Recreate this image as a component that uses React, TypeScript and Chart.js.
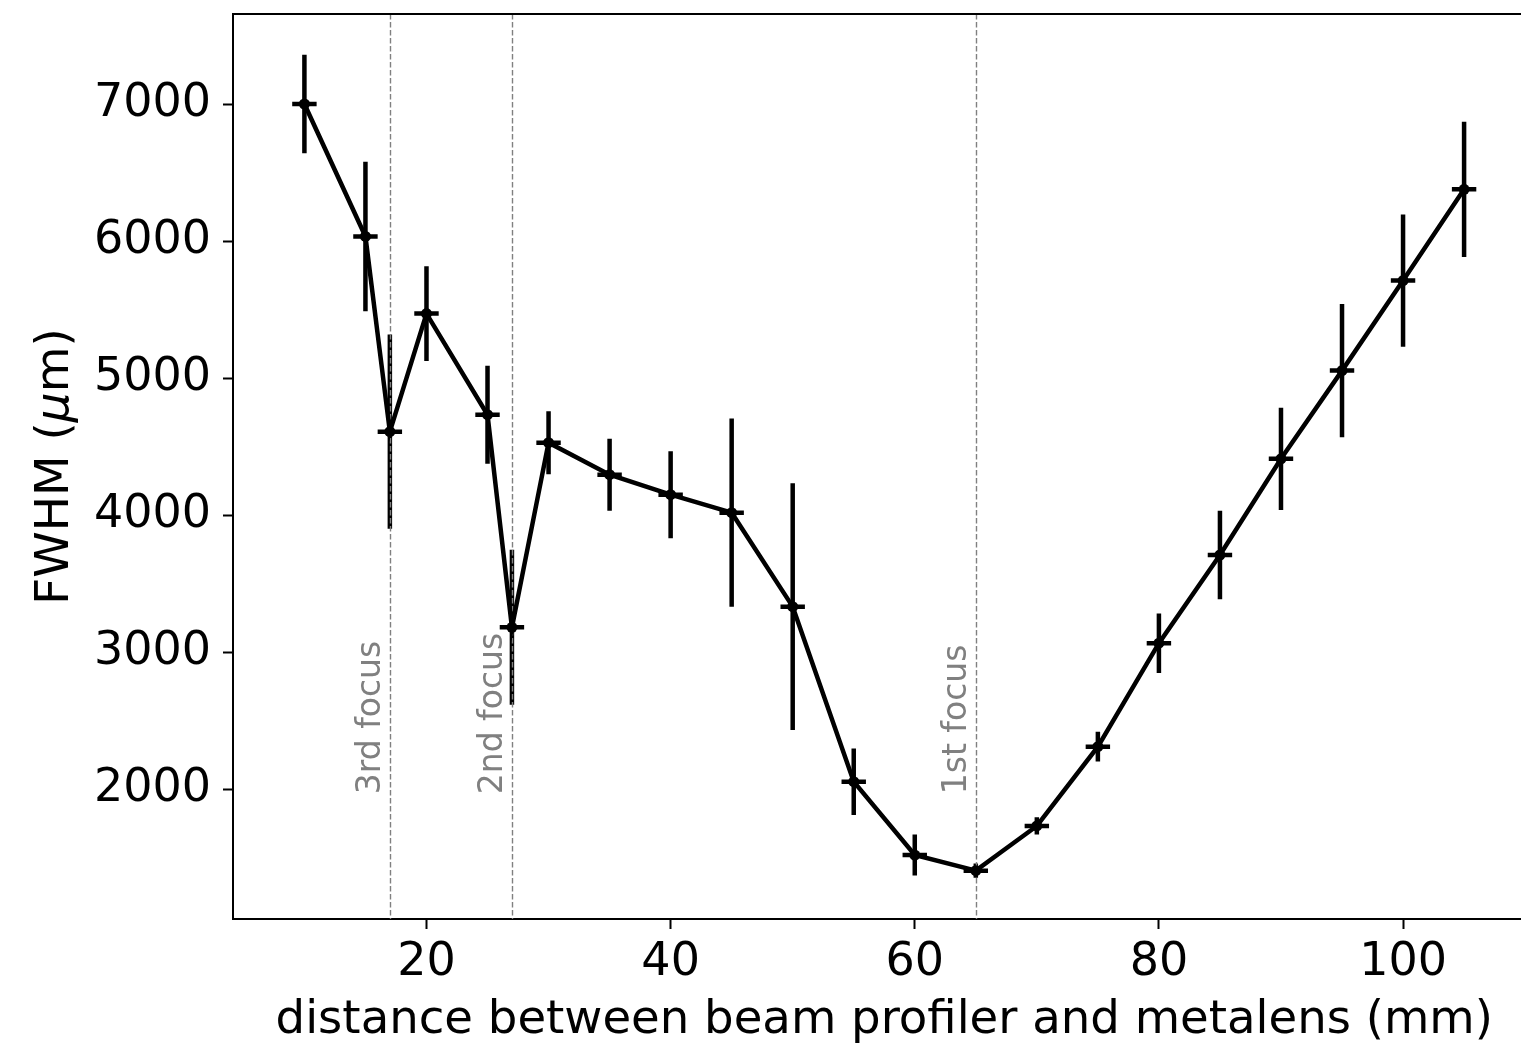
import React, { useEffect, useRef } from 'react';
import { Chart, registerables } from 'chart.js';

Chart.register(...registerables);

// ---- data ----
const distances = [10, 15, 17, 20, 25, 27, 30, 35, 40, 45, 50, 55, 60, 65, 70, 75, 80, 85, 90, 95, 100, 105];
const fwhm = [7002, 6035, 4610, 5472, 4734, 3182, 4530, 4296, 4150, 4019, 3333, 2055, 1520, 1406, 1732, 2311, 3066, 3710, 4412, 5056, 5713, 6379];
const fwhmErr = [359, 545, 709, 345, 358, 566, 230, 263, 318, 687, 900, 243, 150, 52, 63, 109, 217, 323, 373, 486, 482, 493];
const distErr = [1, 1, 1, 1, 1, 1, 1, 1, 1, 1, 1, 1, 1, 1, 1, 1, 1, 1, 1, 1, 1, 1];
const focusPositions = [65, 27, 17];
const focusLabels = ['1st focus', '2nd focus', '3rd focus'];
const focusLabelStart = 2000;
const xTicks = [20, 40, 60, 80, 100];
const yTicks = [2000, 3000, 4000, 5000, 6000, 7000];
const xLabel = 'distance between beam profiler and metalens (mm)';
const yLabelParts = ['FWHM (', 'μ', 'm)'];

const FONT = '"DejaVu Sans", "Liberation Sans", sans-serif';
const CANVAS_W = 1541;
const CANVAS_H = 1049;

const errorBarPlugin = {
  id: 'errorBarsAndFoci',
  beforeDatasetsDraw(chart: any) {
    const { ctx, chartArea } = chart;
    const x = chart.scales.x;
    const y = chart.scales.y;
    ctx.save();
    ctx.strokeStyle = '#000';
    ctx.lineWidth = 4.5;
    ctx.lineCap = 'butt';
    ctx.beginPath();
    for (let i = 0; i < distances.length; i++) {
      const px = x.getPixelForValue(distances[i]);
      const py = y.getPixelForValue(fwhm[i]);
      ctx.moveTo(px, y.getPixelForValue(fwhm[i] + fwhmErr[i]));
      ctx.lineTo(px, y.getPixelForValue(fwhm[i] - fwhmErr[i]));
      ctx.moveTo(x.getPixelForValue(distances[i] - distErr[i]), py);
      ctx.lineTo(x.getPixelForValue(distances[i] + distErr[i]), py);
    }
    ctx.stroke();

    // focus lines
    ctx.strokeStyle = '#808080';
    ctx.lineWidth = 1.4;
    ctx.setLineDash([5.5, 2.5]);
    ctx.beginPath();
    for (const f of focusPositions) {
      const px = Math.round(x.getPixelForValue(f)) + 0.5;
      ctx.moveTo(px, chartArea.top);
      ctx.lineTo(px, chartArea.bottom);
    }
    ctx.stroke();
    ctx.setLineDash([]);

    // focus labels
    ctx.fillStyle = '#808080';
    ctx.font = '33px ' + FONT;
    ctx.textAlign = 'left';
    ctx.textBaseline = 'alphabetic';
    for (let i = 0; i < focusPositions.length; i++) {
      const px = x.getPixelForValue(focusPositions[i]);
      const py = y.getPixelForValue(focusLabelStart);
      ctx.save();
      ctx.translate(px - 9.5, py + 5);
      ctx.rotate(-Math.PI / 2);
      ctx.fillText(focusLabels[i], 0, 0);
      ctx.restore();
    }
    ctx.restore();
  },
  afterDraw(chart: any) {
    const { ctx, chartArea } = chart;
    ctx.save();
    // top spine
    ctx.strokeStyle = '#000';
    ctx.lineWidth = 2;
    ctx.beginPath();
    ctx.moveTo(chartArea.left, chartArea.top);
    ctx.lineTo(chartArea.right + 2, chartArea.top);
    ctx.stroke();

    // y axis title with italic mu
    const fonts = ['47px ' + FONT, 'italic 47px ' + FONT, '47px ' + FONT];
    let total = 0;
    const widths: number[] = [];
    for (let i = 0; i < yLabelParts.length; i++) {
      ctx.font = fonts[i];
      const w = ctx.measureText(yLabelParts[i]).width;
      widths.push(w);
      total += w;
    }
    const cy = (chartArea.top + chartArea.bottom) / 2;
    ctx.translate(68, cy);
    ctx.rotate(-Math.PI / 2);
    ctx.fillStyle = '#000';
    ctx.textAlign = 'left';
    ctx.textBaseline = 'alphabetic';
    let cx = -total / 2;
    for (let i = 0; i < yLabelParts.length; i++) {
      ctx.font = fonts[i];
      ctx.fillText(yLabelParts[i], cx, 0);
      cx += widths[i];
    }
    ctx.restore();
  },
};

export default function App() {
  const canvasRef = useRef<HTMLCanvasElement | null>(null);

  useEffect(() => {
    const canvas = canvasRef.current;
    if (!canvas) return;
    const chart = new Chart(canvas, {
      type: 'line',
      data: {
        datasets: [
          {
            label: 'FWHM',
            data: distances.map((d, i) => ({ x: d, y: fwhm[i] })),
            borderColor: '#000',
            backgroundColor: '#000',
            borderWidth: 4.5,
            pointRadius: 5.5,
            pointBackgroundColor: '#000',
            pointBorderWidth: 0,
            tension: 0,
            fill: false,
          },
        ],
      },
      options: {
        responsive: false,
        animation: false,
        devicePixelRatio: 1,
        layout: { padding: { left: 0, right: 1, top: 14, bottom: 0 } },
        plugins: {
          legend: { display: false },
          tooltip: { enabled: false },
        },
        scales: {
          x: {
            type: 'linear',
            min: 4.15,
            max: 110.85,
            afterBuildTicks: (scale: any) => {
              scale.ticks = xTicks.map((v) => ({ value: v }));
            },
            afterFit: (scale: any) => {
              scale.height = 130;
              scale.paddingLeft = 0;
              scale.paddingRight = 0;
              scale.paddingTop = 0;
              scale.paddingBottom = 0;
            },
            ticks: {
              color: '#000',
              font: { family: FONT, size: 46 },
              padding: 6,
              maxRotation: 0,
              autoSkip: false,
              callback: (v: any) => String(v),
            },
            grid: {
              display: true,
              drawOnChartArea: false,
              drawTicks: true,
              tickLength: 10,
              tickColor: '#000',
              tickWidth: 2,
            },
            border: { display: true, color: '#000', width: 2 },
            title: {
              display: true,
              text: xLabel,
              color: '#000',
              font: { family: FONT, size: 46.6, lineHeight: 1.2 },
              padding: { top: 0, bottom: 0 },
            },
          },
          y: {
            type: 'linear',
            min: 1053,
            max: 7659,
            afterBuildTicks: (scale: any) => {
              scale.ticks = yTicks.map((v) => ({ value: v }));
            },
            afterFit: (scale: any) => {
              scale.width = 233;
              scale.paddingLeft = 0;
              scale.paddingRight = 0;
              scale.paddingTop = 0;
              scale.paddingBottom = 0;
            },
            ticks: {
              color: '#000',
              font: { family: FONT, size: 46 },
              padding: 12,
              autoSkip: false,
              callback: (v: any) => String(v),
            },
            grid: {
              display: true,
              drawOnChartArea: false,
              drawTicks: true,
              tickLength: 10,
              tickColor: '#000',
              tickWidth: 2,
            },
            border: { display: true, color: '#000', width: 2 },
          },
        },
      },
      plugins: [errorBarPlugin],
    } as any);
    return () => chart.destroy();
  }, []);

  return (
    <div style={{ position: 'fixed', left: 0, top: 0, width: CANVAS_W, height: CANVAS_H, background: '#fff' }}>
      <canvas ref={canvasRef} width={CANVAS_W} height={CANVAS_H} style={{ display: 'block', width: CANVAS_W, height: CANVAS_H }} />
    </div>
  );
}
